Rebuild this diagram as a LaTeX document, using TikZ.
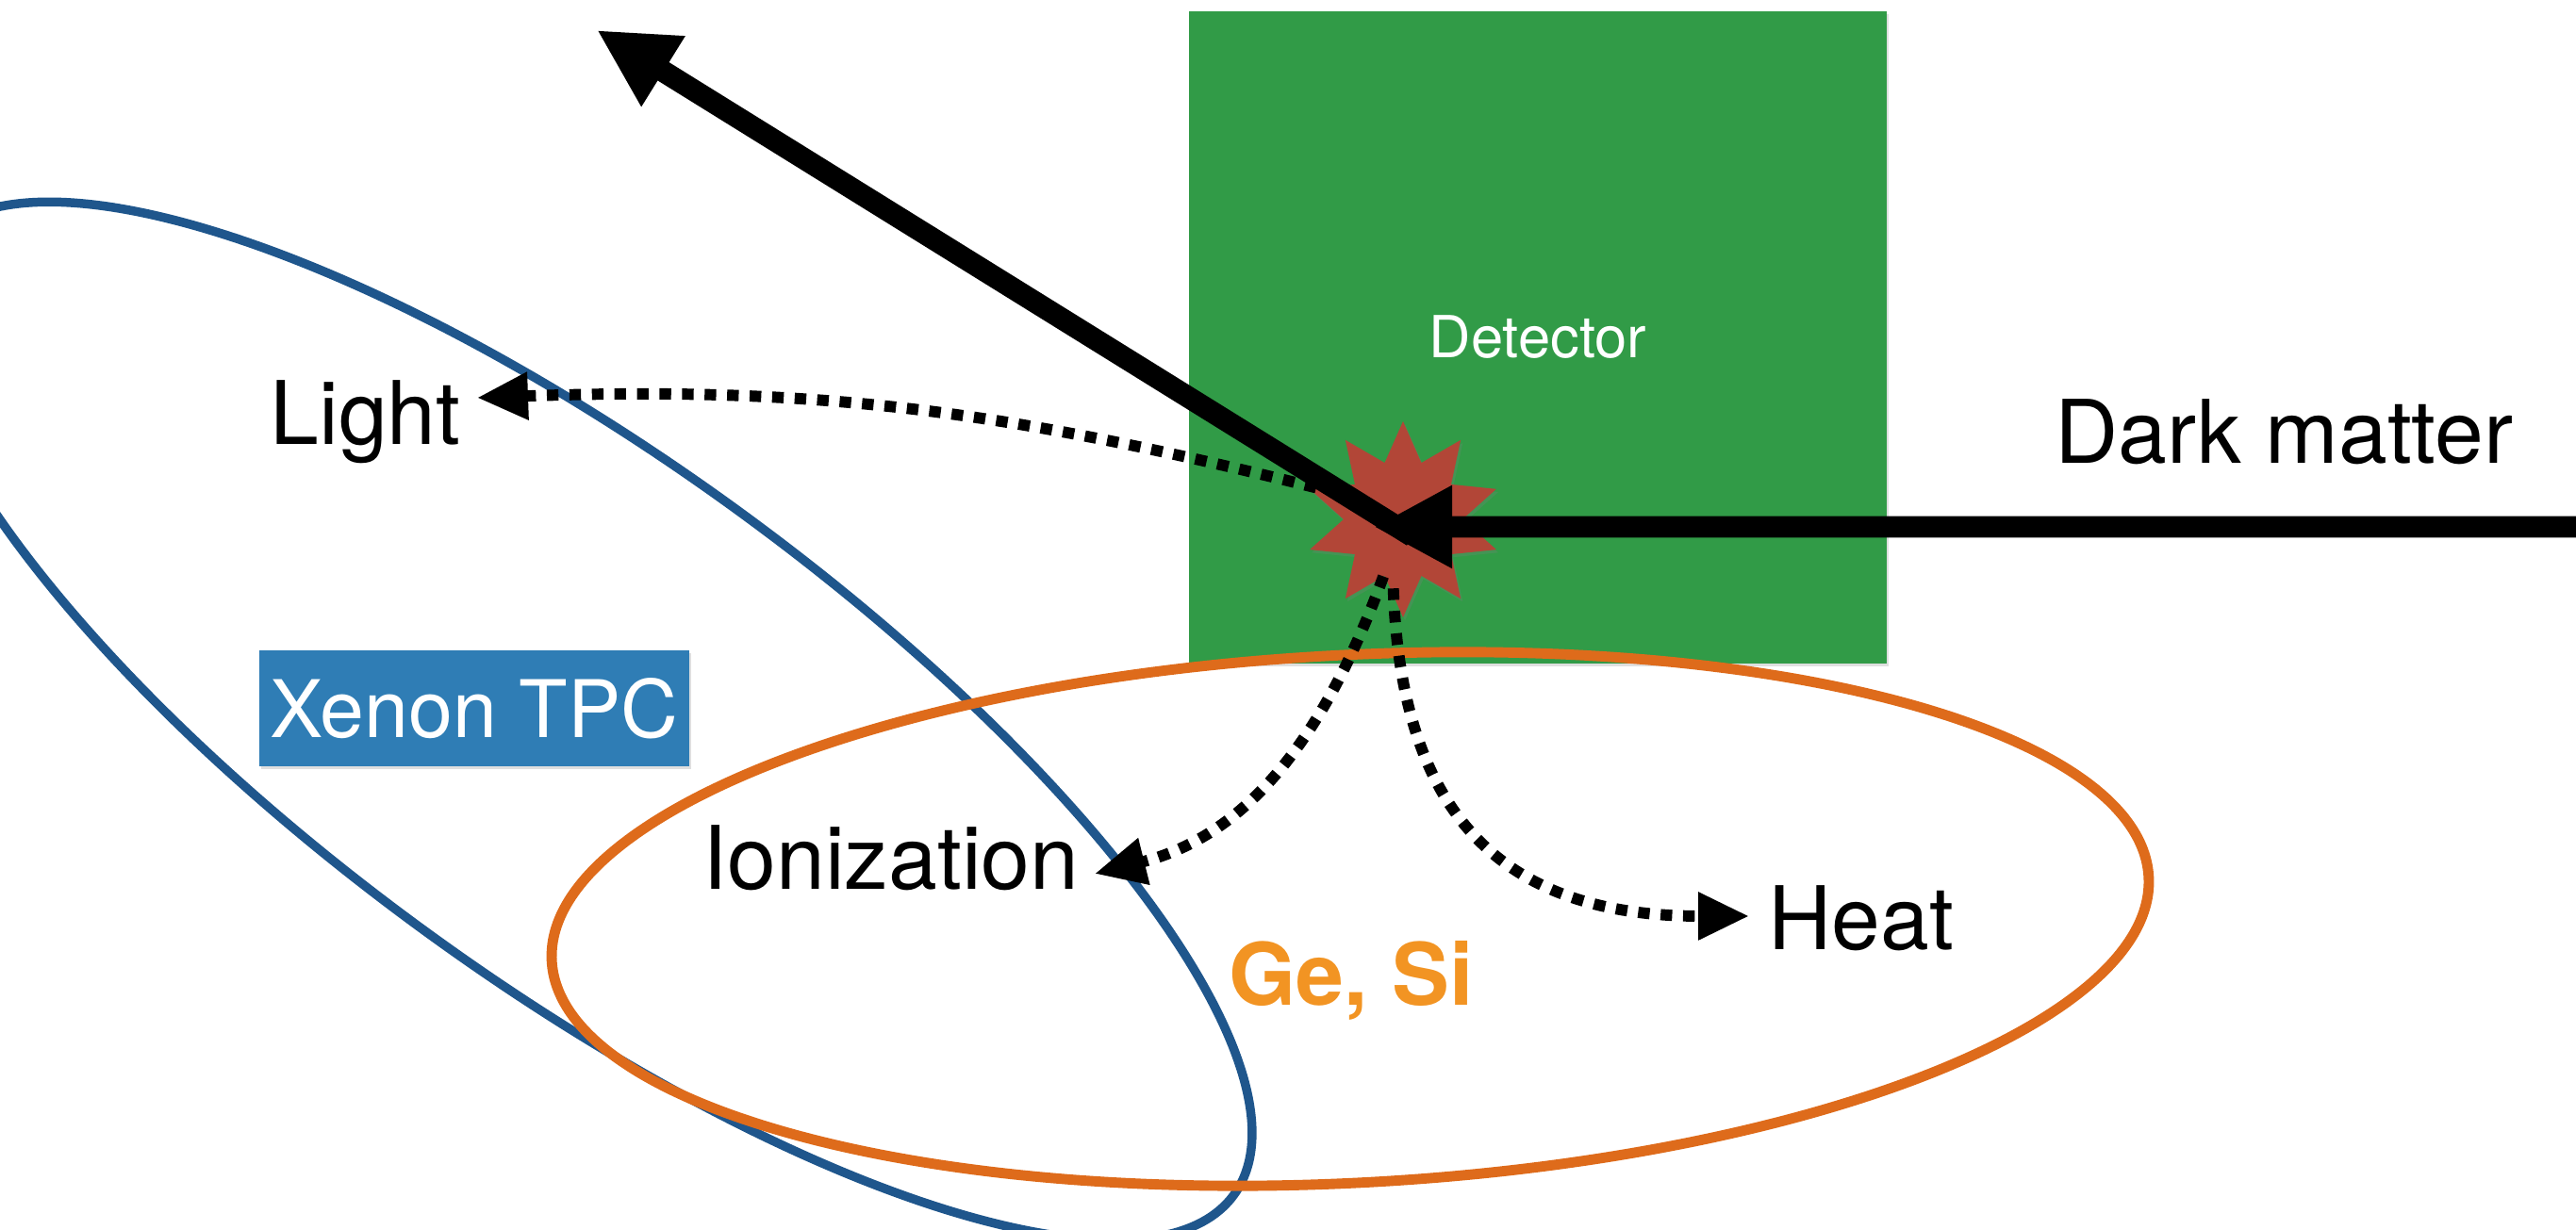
\documentclass[tikz,border=0pt]{standalone}
\usepackage{fontspec}
\setmainfont{TeX Gyre Heros}
\usetikzlibrary{arrows.meta,shapes.geometric,shadows,decorations.pathmorphing}
\definecolor{detgreen}{RGB}{49,155,71}
\definecolor{hitred}{RGB}{178,70,55}
\definecolor{xeblue}{RGB}{31,86,140}
\definecolor{boxblue}{RGB}{47,125,181}
\definecolor{georange}{RGB}{222,107,27}
\definecolor{getext}{RGB}{242,148,35}
\tikzset{
  word/.style={inner sep=0pt, font=\fontsize{26.5}{30}\selectfont},
  paper/.style={drop shadow={shadow xshift=0.6pt, shadow yshift=-0.9pt, opacity=0.25}},
  quanta/.style={line width=3.4pt, dash pattern=on 3.5pt off 3.3pt,
    -{Triangle[length=5.4mm,width=4.8mm]}},
  track/.style={line width=6.5pt, -{Triangle[length=8.3mm,width=8.2mm]}},
  rough/.style={line width=1.2pt, opacity=0.7, decorate,
    decoration={random steps, segment length=2pt, amplitude=0.6pt}},
}
\def\drawquanta{\draw[quanta]}
\def\drawtrack{\draw[track]}

\begin{document}
\begin{tikzpicture}
\useasboundingbox (0,0) rectangle (27.32,13.05);
\clip (0,0) rectangle (27.32,13.05);

\node[paper, fill=detgreen, minimum width=7.40cm, minimum height=6.92cm, text=white,
  font=\fontsize{17.5}{20}\selectfont] (det) at (16.31,9.47) {Detector};

% detector families
\draw[xeblue, line width=2.7pt] (6.17,5.40) circle [x radius=8.55, y radius=2.78, rotate=-36];
\draw[xeblue, rough] (6.17,5.40) circle [x radius=8.55, y radius=2.78, rotate=-36];
\draw[georange, line width=3.1pt] (14.32,3.30) circle [x radius=8.48, y radius=2.80, rotate=3];
\draw[georange, rough] (14.32,3.30) circle [x radius=8.48, y radius=2.80, rotate=3];

\node[paper, star, star points=10, star point ratio=1.65, minimum size=2.08cm,
  inner sep=0pt, fill=hitred] (hit) at (14.88,7.54) {};

\node[word, anchor=base west] (light) at (2.86,8.33) {Light};
\node[word, anchor=base west] (dm) at (21.79,8.13) {Dark matter};
\node[word, anchor=base west] (ion) at (7.45,3.61) {Ionization};
\node[word, anchor=base west] (heat) at (18.75,2.97) {Heat};
\node[word, anchor=base west, text=getext, font=\bfseries\fontsize{26}{30}\selectfont]
  (gesi) at (13.03,2.38) {Ge, Si};
\node[paper, fill=boxblue, text=white, minimum width=4.52cm, minimum height=1.23cm,
  font=\fontsize{24}{28}\selectfont] (tpc) at (5.03,5.535) {Xenon TPC};

\coordinate (light tip) at (5.06,8.83);
\coordinate (ion tip) at (11.61,3.78);
\coordinate (heat tip) at (18.55,3.33);
\coordinate (dm in) at (27.6,7.46);
\coordinate (dm tip) at ([shift={(-0.31,-0.08)}]hit.center);
\coordinate (recoil) at (6.33,12.73);

\drawquanta (hit.160) to[out=166,in=2] (light tip);
\drawquanta ([shift={(251:0.64)}]hit.center) to[out=250,in=14] (ion tip);
\drawquanta ([shift={(262:0.74)}]hit.center) to[out=-88,in=180,looseness=1.25] (heat tip);

\drawtrack ([shift={(0.1,-0.18)}]hit.center) -- (recoil);
\drawtrack (dm in) -- (dm tip);
\end{tikzpicture}
\end{document}
